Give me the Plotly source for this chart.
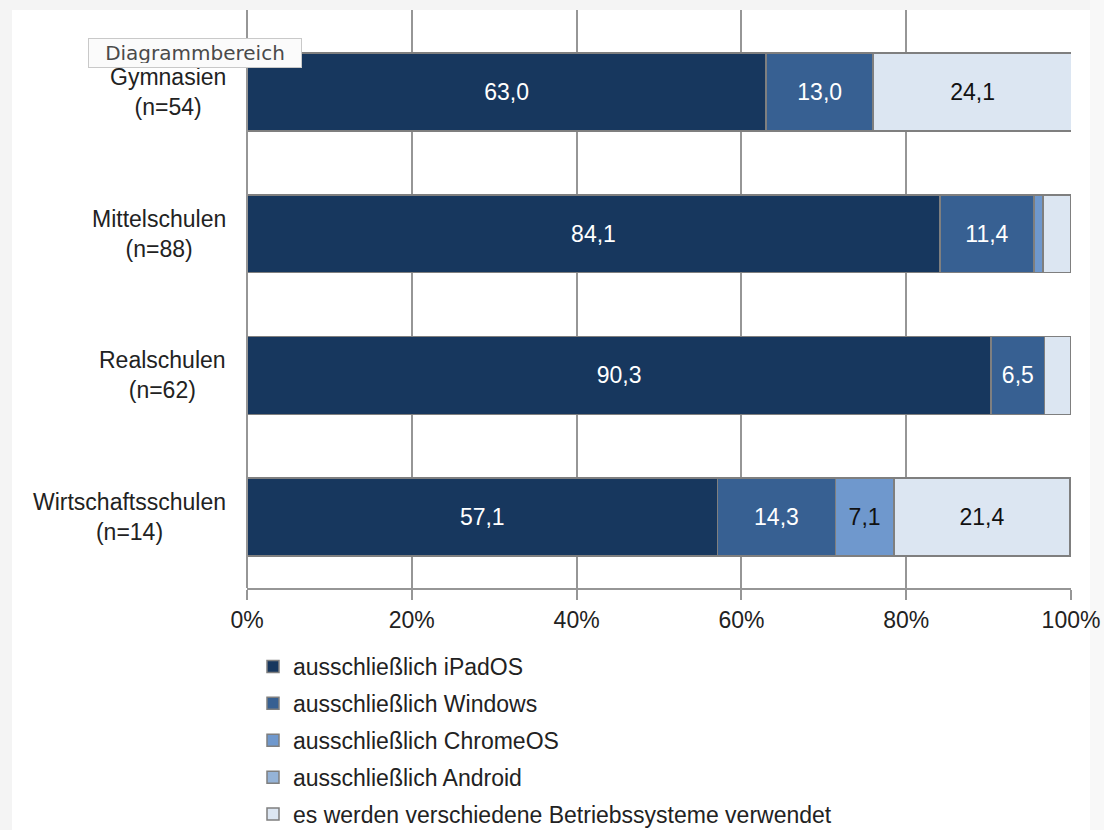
import plotly.graph_objects as go

categories = ["Gymnasien<br>(n=54)", "Mittelschulen<br>(n=88)", "Realschulen<br>(n=62)", "Wirtschaftsschulen<br>(n=14)"]
series_names = [
    "ausschließlich iPadOS",
    "ausschließlich Windows",
    "ausschließlich ChromeOS",
    "ausschließlich Android",
    "es werden verschiedene Betriebssysteme verwendet",
]
ipados = [63.0, 84.1, 90.3, 57.1]
windows = [13.0, 11.4, 6.5, 14.3]
chromeos = [0.0, 1.1, 0.0, 7.1]
android = [0.0, 0.0, 0.0, 0.0]
verschiedene = [24.1, 3.4, 3.2, 21.4]
x_ticks = [0, 20, 40, 60, 80, 100]
x_ticklabels = ["0%", "20%", "40%", "60%", "80%", "100%"]

colors = ["#17375e", "#376092", "#6f98cd", "#95b3d7", "#dce6f2"]
text_colors = ["white", "white", "#111111", "#111111", "#111111"]
all_values = [ipados, windows, chromeos, android, verschiedene]

FONT = "Liberation Sans"
W, H = 1104, 830
L, R, T, B = 247, 1104 - 1071, 10, 830 - 588
PW, PH = W - L - R, H - T - B

def px_x(px):
    return (px - L) / PW

def px_y(py):
    return 1 - (py - T) / PH

fig = go.Figure()
for name, vals, col, tcol in zip(series_names, all_values, colors, text_colors):
    labels = [f"{v:.1f}".replace(".", ",") if v >= 5 else "" for v in vals]
    fig.add_trace(go.Bar(
        y=categories, x=vals, name=name, orientation="h",
        marker=dict(color=col, line=dict(color="#7f7f7f", width=1.5)),
        text=labels, textposition="inside", insidetextanchor="middle",
        textangle=0, textfont=dict(color=tcol, size=23, family=FONT),
        legendgroup=name, hoverinfo="skip",
    ))

fig.update_layout(
    width=W, height=H, autosize=False, barmode="stack", bargap=0.45,
    margin=dict(l=L, r=R, t=T, b=B, pad=0, autoexpand=False),
    paper_bgcolor="white", plot_bgcolor="white",
    font=dict(family=FONT, size=23, color="#222222"),
    xaxis=dict(range=[0, 100], tickvals=x_ticks, ticktext=x_ticklabels,
               showgrid=True, gridcolor="#969696", gridwidth=2,
               showline=True, linecolor="#969696", linewidth=2,
               ticks="outside", ticklen=10, tickcolor="#969696", tickwidth=2,
               zeroline=False, fixedrange=True, automargin=False,
               tickfont=dict(size=23, color="#222222")),
    yaxis=dict(categoryorder="array", categoryarray=categories[::-1],
               range=[-0.5, 3.579],
               showticklabels=False, showgrid=False, zeroline=False,
               showline=False, fixedrange=True, automargin=False),
    showlegend=True,
    legend=dict(x=px_x(253), y=px_y(645), xanchor="left", yanchor="top",
                orientation="v", traceorder="grouped", tracegroupgap=4,
                font=dict(size=23, color="#222222", family=FONT),
                bgcolor="rgba(0,0,0,0)", itemclick=False, itemdoubleclick=False),
)

annotations = []
for c in categories:
    annotations.append(dict(x=px_x(228), y=c, xref="paper", yref="y", text=c,
                            xanchor="right", yanchor="middle", align="center",
                            showarrow=False, font=dict(size=23, color="#222222", family=FONT)))
annotations.append(dict(x=px_x(88), y=px_y(38), xref="paper", yref="paper",
                        text="Diagrammbereich", xanchor="left", yanchor="top",
                        width=204, height=20, align="center",
                        showarrow=False, bgcolor="#fbfbfb", bordercolor="#c9c9c9",
                        borderwidth=1, borderpad=4,
                        font=dict(size=20, color="#4a4a4a", family="DejaVu Sans")))
fig.update_layout(annotations=annotations)

shapes = [
    dict(type="line", xref="paper", yref="paper", x0=0, x1=0, y0=0, y1=1,
         line=dict(color="#969696", width=2), layer="above"),
    dict(type="rect", xref="paper", yref="paper", x0=px_x(0), x1=px_x(W), y0=px_y(10), y1=px_y(0),
         fillcolor="#f4f4f4", line=dict(width=0), layer="below"),
    dict(type="rect", xref="paper", yref="paper", x0=px_x(0), x1=px_x(12), y0=px_y(H), y1=px_y(0),
         fillcolor="#f4f4f4", line=dict(width=0), layer="below"),
    dict(type="rect", xref="paper", yref="paper", x0=px_x(1090), x1=px_x(W), y0=px_y(H), y1=px_y(0),
         fillcolor="#f8f8f8", line=dict(width=0), layer="below"),
]
fig.update_layout(shapes=shapes)

fig.write_html("out.html", config={"displayModeBar": False, "responsive": False},
               post_script="document.body.style.margin='0px';document.body.style.overflow='hidden';")
